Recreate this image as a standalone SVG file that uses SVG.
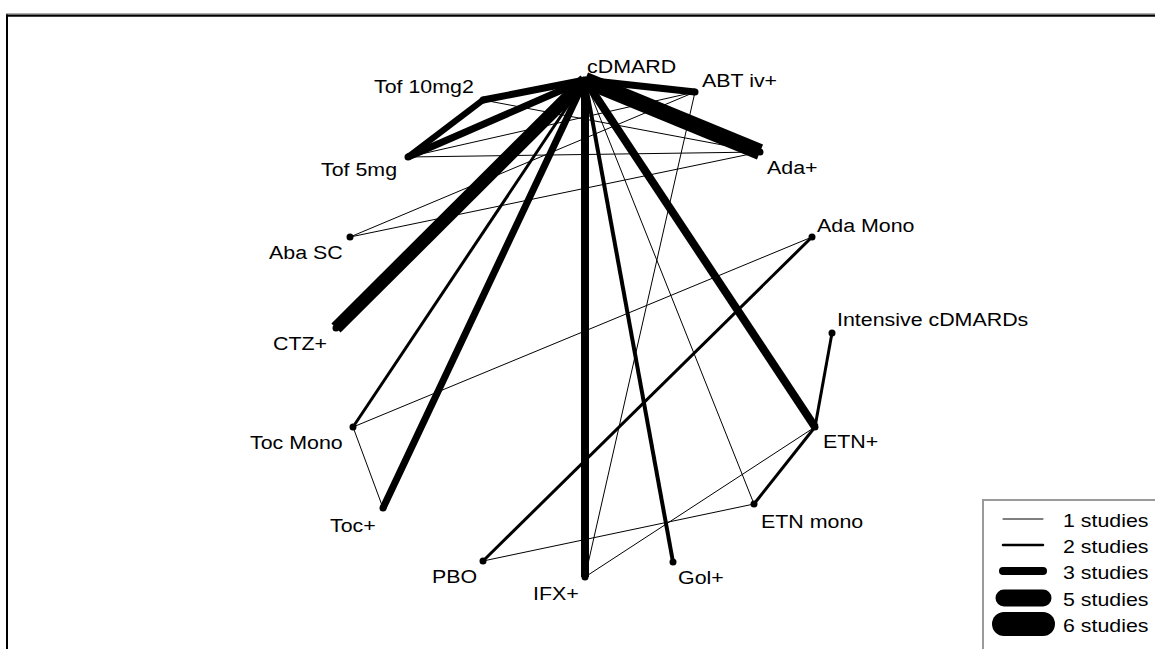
<svg xmlns="http://www.w3.org/2000/svg" width="1155" height="649" viewBox="0 0 1155 649">
  <style>
    .lbl { font-family: "Liberation Sans", Arial, sans-serif; font-size: 18.6px; fill: #000; }
    .leg { font-family: "Liberation Sans", Arial, sans-serif; font-size: 17.5px; fill: #000; }
    .edge { stroke: #000; fill: none; stroke-linecap: butt; }
    .legline { stroke: #000; stroke-linecap: round; }
    .dot { fill: #000; }
  </style>
  <rect width="1155" height="649" fill="#fff"/>

  <!-- figure frame -->
  <g id="frame">
    <line x1="6" y1="13.8" x2="1155" y2="13.8" stroke="#8a8a8a" stroke-width="1"/>
    <line x1="6" y1="15.6" x2="1155" y2="15.6" stroke="#000" stroke-width="2.2"/>
    <line x1="7" y1="14.5" x2="7" y2="649" stroke="#000" stroke-width="2"/>
  </g>

  <!-- connectors: stroke width proportional to number of studies -->
  <g id="connectors">
    <line class="edge" x1="585" y1="80" x2="760" y2="152" stroke-width="16"/>
    <line class="edge" x1="585" y1="80" x2="336" y2="328" stroke-width="13"/>
    <line class="edge" x1="585" y1="80" x2="483" y2="100" stroke-width="7"/>
    <line class="edge" x1="585" y1="80" x2="408" y2="157" stroke-width="7"/>
    <line class="edge" x1="483" y1="100" x2="408" y2="157" stroke-width="6"/>
    <line class="edge" x1="585" y1="80" x2="695" y2="92" stroke-width="7"/>
    <line class="edge" x1="585" y1="80" x2="353" y2="427" stroke-width="3"/>
    <line class="edge" x1="585" y1="80" x2="383" y2="508" stroke-width="7"/>
    <line class="edge" x1="585" y1="80" x2="585" y2="577" stroke-width="8"/>
    <line class="edge" x1="585" y1="80" x2="673" y2="562" stroke-width="4"/>
    <line class="edge" x1="585" y1="80" x2="815" y2="427" stroke-width="8"/>
    <line class="edge" x1="585" y1="80" x2="754" y2="504" stroke-width="1"/>
    <line class="edge" x1="815" y1="427" x2="832" y2="333" stroke-width="3"/>
    <line class="edge" x1="815" y1="427" x2="754" y2="504" stroke-width="3"/>
    <line class="edge" x1="815" y1="427" x2="585" y2="577" stroke-width="1"/>
    <line class="edge" x1="754" y1="504" x2="483" y2="561" stroke-width="1"/>
    <line class="edge" x1="483" y1="561" x2="812" y2="237" stroke-width="3"/>
    <line class="edge" x1="812" y1="237" x2="353" y2="427" stroke-width="1"/>
    <line class="edge" x1="353" y1="427" x2="383" y2="508" stroke-width="1"/>
    <line class="edge" x1="585" y1="577" x2="695" y2="92" stroke-width="1"/>
    <line class="edge" x1="350" y1="237" x2="695" y2="92" stroke-width="1"/>
    <line class="edge" x1="350" y1="237" x2="760" y2="152" stroke-width="1"/>
    <line class="edge" x1="408" y1="157" x2="760" y2="152" stroke-width="1"/>
    <line class="edge" x1="483" y1="100" x2="760" y2="152" stroke-width="1"/>
    <line class="edge" x1="408" y1="157" x2="695" y2="92" stroke-width="1"/>
  </g>

  <!-- treatment nodes -->
  <g id="node-cdmard"><circle class="dot" cx="585" cy="80" r="3.5"/><text class="lbl" transform="translate(587 73) scale(1.15 1)">cDMARD</text></g>
  <g id="node-tof10"><circle class="dot" cx="483" cy="100" r="3.5"/><text class="lbl" transform="translate(374 93) scale(1.15 1)">Tof 10mg2</text></g>
  <g id="node-abt"><circle class="dot" cx="695" cy="92" r="3.5"/><text class="lbl" transform="translate(702 87) scale(1.15 1)">ABT iv+</text></g>
  <g id="node-ada"><circle class="dot" cx="760" cy="152" r="3.5"/><text class="lbl" transform="translate(767 174) scale(1.15 1)">Ada+</text></g>
  <g id="node-tof5"><circle class="dot" cx="408" cy="157" r="3.5"/><text class="lbl" transform="translate(321 176) scale(1.15 1)">Tof 5mg</text></g>
  <g id="node-abasc"><circle class="dot" cx="350" cy="237" r="3.5"/><text class="lbl" transform="translate(269 259) scale(1.15 1)">Aba SC</text></g>
  <g id="node-ctz"><circle class="dot" cx="336" cy="328" r="3.5"/><text class="lbl" transform="translate(273 350) scale(1.15 1)">CTZ+</text></g>
  <g id="node-adamono"><circle class="dot" cx="812" cy="237" r="3.5"/><text class="lbl" transform="translate(817 232) scale(1.15 1)">Ada Mono</text></g>
  <g id="node-intensive"><circle class="dot" cx="832" cy="333" r="3.5"/><text class="lbl" transform="translate(837 326) scale(1.15 1)">Intensive cDMARDs</text></g>
  <g id="node-etn"><circle class="dot" cx="815" cy="427" r="3.5"/><text class="lbl" transform="translate(823 448) scale(1.15 1)">ETN+</text></g>
  <g id="node-etnmono"><circle class="dot" cx="754" cy="504" r="3.5"/><text class="lbl" transform="translate(761 528) scale(1.15 1)">ETN mono</text></g>
  <g id="node-gol"><circle class="dot" cx="673" cy="562" r="3.5"/><text class="lbl" transform="translate(678 584) scale(1.15 1)">Gol+</text></g>
  <g id="node-ifx"><circle class="dot" cx="585" cy="577" r="3.5"/><text class="lbl" transform="translate(533 600) scale(1.15 1)">IFX+</text></g>
  <g id="node-pbo"><circle class="dot" cx="483" cy="561" r="3.5"/><text class="lbl" transform="translate(432 583) scale(1.15 1)">PBO</text></g>
  <g id="node-toc"><circle class="dot" cx="383" cy="508" r="3.5"/><text class="lbl" transform="translate(330 532) scale(1.15 1)">Toc+</text></g>
  <g id="node-tocmono"><circle class="dot" cx="353" cy="427" r="3.5"/><text class="lbl" transform="translate(250 449) scale(1.15 1)">Toc Mono</text></g>

  <!-- legend -->
  <g id="legend">
    <rect x="983" y="500" width="220" height="200" fill="#fff" stroke="#9a9a9a" stroke-width="2"/>
    <line class="legline" x1="1003" y1="519" x2="1043" y2="519" stroke-width="1"/>
    <line class="legline" x1="1003" y1="545" x2="1043" y2="545" stroke-width="2.5"/>
    <line class="legline" x1="1003" y1="571" x2="1043" y2="571" stroke-width="8"/>
    <line class="legline" x1="1004" y1="598" x2="1043" y2="598" stroke-width="17"/>
    <line class="legline" x1="1004" y1="624" x2="1043" y2="624" stroke-width="24"/>
    <text class="leg" transform="translate(1063 527) scale(1.22 1)">1 studies</text>
    <text class="leg" transform="translate(1063 553) scale(1.22 1)">2 studies</text>
    <text class="leg" transform="translate(1063 579) scale(1.22 1)">3 studies</text>
    <text class="leg" transform="translate(1063 606) scale(1.22 1)">5 studies</text>
    <text class="leg" transform="translate(1063 632) scale(1.22 1)">6 studies</text>
  </g>
</svg>
